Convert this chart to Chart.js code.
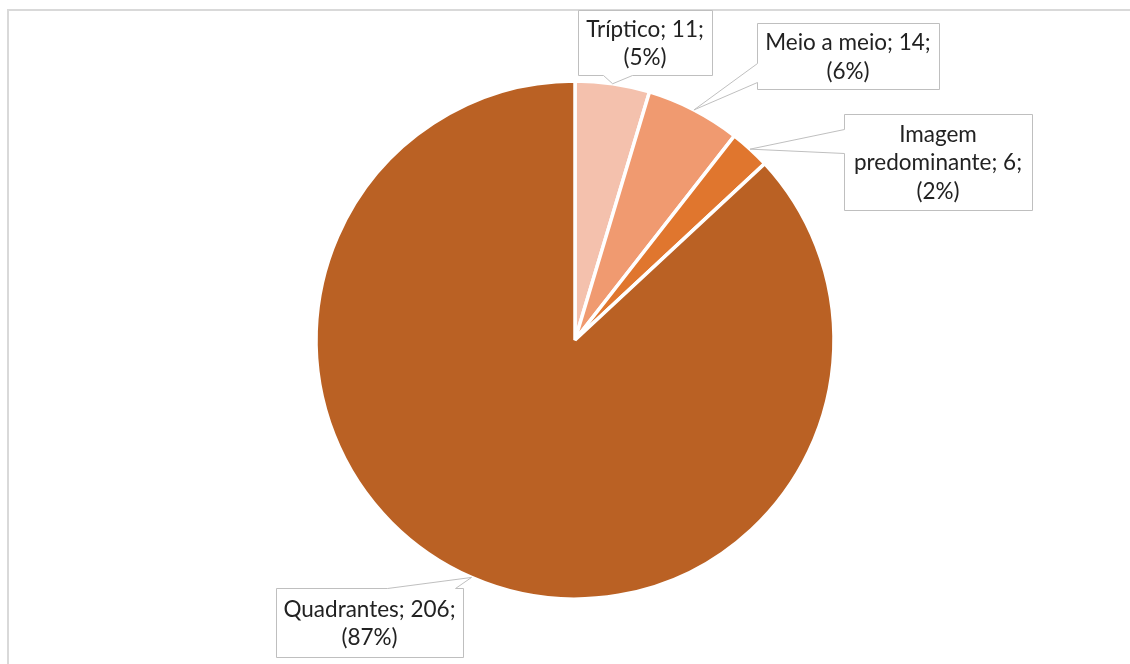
<!DOCTYPE html>
<html lang="pt">
<head>
    <meta charset="UTF-8">
    <title>Tipos de layout</title>
    <script src="https://cdn.jsdelivr.net/npm/chart.js"></script>
    <style>
        html, body { margin: 0; padding: 0; background: #fff; }
        body { width: 1130px; height: 664px; overflow: hidden; position: relative; }
        /* moldura do gráfico (só topo e esquerda ficam visíveis) */
        .frame {
            position: absolute; left: 7px; top: 9px; width: 1140px; height: 680px;
            border-top: 2px solid #d9d9d9; border-left: 2px solid #d9d9d9;
        }
        #wrap { position: absolute; left: 0; top: 0; width: 1130px; height: 664px; }
    </style>
</head>
<body>
    <div class="frame"></div>
    <div id="wrap"><canvas id="pie"></canvas></div>

    <script>
        const categories = ['Tríptico', 'Meio a meio', 'Imagem predominante', 'Quadrantes'];
        const counts = [11, 14, 6, 206];
        const percentLabels = ['5%', '6%', '2%', '87%'];
        const sliceColors = ['#f4c1ad', '#f09a70', '#e0762e', '#ba6124'];

        // caixas das etiquetas com a ponta (cunha) virada para a fatia
        const callouts = [
            { x: 578, y: 10, w: 134, h: 65, side: 'bottom', a: 603, b: 632 },
            { x: 757, y: 23, w: 182, h: 66, side: 'left', a: 63, b: 82 },
            { x: 844, y: 114, w: 188, h: 96, side: 'left', a: 129, b: 153 },
            { x: 276, y: 588, w: 187, h: 69, side: 'top', a: 387, b: 455 }
        ];

        const FONT = '22.5px Lato';
        const LINE_H = 28.5;

        function wrapText(ctx, text, maxW) {
            const words = text.split(' ');
            const lines = [];
            let cur = '';
            words.forEach(w => {
                const test = cur ? cur + ' ' + w : w;
                if (cur && ctx.measureText(test).width > maxW) {
                    lines.push(cur);
                    cur = w;
                } else {
                    cur = test;
                }
            });
            if (cur) lines.push(cur);
            return lines;
        }

        const calloutPlugin = {
            id: 'callouts',
            afterDatasetsDraw(chart) {
                const ctx = chart.ctx;
                const arcs = chart.getDatasetMeta(0).data;
                ctx.save();
                ctx.font = FONT;
                arcs.forEach((arc, i) => {
                    const c = callouts[i];
                    const mid = (arc.startAngle + arc.endAngle) / 2;
                    const tx = arc.x + Math.cos(mid) * arc.outerRadius;
                    const ty = arc.y + Math.sin(mid) * arc.outerRadius;
                    const x0 = c.x + 0.5, y0 = c.y + 0.5, x1 = c.x + c.w + 0.5, y1 = c.y + c.h + 0.5;

                    ctx.beginPath();
                    ctx.moveTo(x0, y0);
                    if (c.side === 'top') {
                        ctx.lineTo(c.a + 0.5, y0);
                        ctx.lineTo(tx, ty);
                        ctx.lineTo(c.b + 0.5, y0);
                    }
                    ctx.lineTo(x1, y0);
                    ctx.lineTo(x1, y1);
                    if (c.side === 'bottom') {
                        ctx.lineTo(c.b + 0.5, y1);
                        ctx.lineTo(tx, ty);
                        ctx.lineTo(c.a + 0.5, y1);
                    }
                    ctx.lineTo(x0, y1);
                    if (c.side === 'left') {
                        ctx.lineTo(x0, c.b + 0.5);
                        ctx.lineTo(tx, ty);
                        ctx.lineTo(x0, c.a + 0.5);
                    }
                    ctx.closePath();
                    ctx.fillStyle = '#ffffff';
                    ctx.fill();
                    ctx.strokeStyle = '#bfbfbf';
                    ctx.lineWidth = 1;
                    ctx.stroke();

                    const text = categories[i] + '; ' + counts[i] + '; (' + percentLabels[i] + ')';
                    const lines = wrapText(ctx, text, c.w - 10);
                    ctx.fillStyle = '#222222';
                    ctx.textAlign = 'center';
                    ctx.textBaseline = 'middle';
                    const cx = c.x + c.w / 2;
                    const cy = c.y + c.h / 2 + 1;
                    lines.forEach((ln, k) => {
                        ctx.fillText(ln, cx, cy + (k - (lines.length - 1) / 2) * LINE_H);
                    });
                });
                ctx.restore();
            }
        };

        new Chart(document.getElementById('pie'), {
            type: 'pie',
            data: {
                labels: categories,
                datasets: [{
                    data: counts,
                    backgroundColor: sliceColors,
                    borderColor: '#ffffff',
                    borderWidth: 3.5
                }]
            },
            options: {
                responsive: true,
                maintainAspectRatio: false,
                animation: false,
                radius: 259,
                layout: { padding: { left: 20, right: 0, top: 16, bottom: 0 } },
                plugins: {
                    legend: { display: false },
                    tooltip: { enabled: false }
                }
            },
            plugins: [calloutPlugin]
        });
    </script>
</body>
</html>
